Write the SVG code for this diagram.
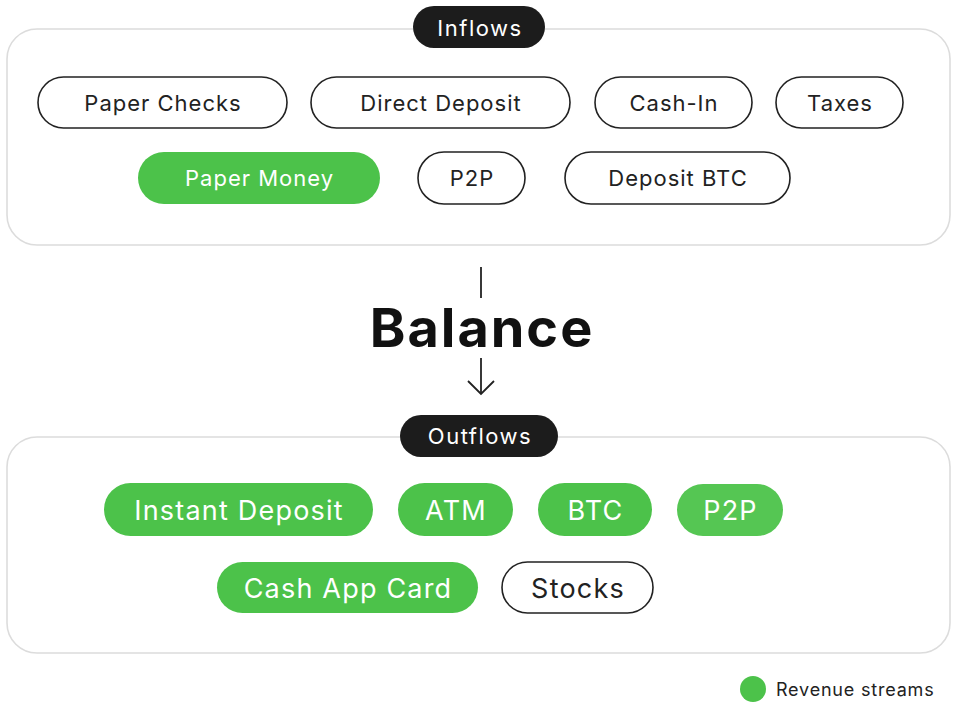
<svg xmlns="http://www.w3.org/2000/svg" width="953" height="705" viewBox="0 0 953 705">
<defs>
<style>
.panel{fill:#fff;stroke:#dcdcdc;stroke-width:1.6}
.pill{fill:#fff;stroke:#222;stroke-width:1.6}
.green{fill:#4cc24a;stroke:none}
.tag{fill:#1c1c1c}
text{font-family:Inter,"Open Sans","Liberation Sans",sans-serif;text-anchor:middle;dominant-baseline:central}
.t{font-size:22px;fill:#222;letter-spacing:1px}
.tw{font-size:22px;fill:#fff;letter-spacing:1px}
.tag-t{font-size:22px;fill:#fff;letter-spacing:1.5px}
.ow{font-size:27px;fill:#fff;letter-spacing:1.2px}
.ob{font-size:27px;fill:#222;letter-spacing:1.2px}
</style>
</defs>
<rect width="953" height="705" fill="#fff"/>
<g id="inflows-panel">
<rect class="panel" x="7" y="29" width="943" height="216" rx="30"/>
<rect class="tag" x="413" y="6" width="132" height="42" rx="21"/>
<text class="tag-t" x="480" y="28">Inflows</text>
</g>
<g id="paper-checks"><rect class="pill" x="38" y="77" width="249" height="51" rx="25.5"/><text class="t" x="163" y="103">Paper Checks</text></g>
<g id="direct-deposit"><rect class="pill" x="311" y="77" width="259" height="51" rx="25.5"/><text class="t" x="441" y="103">Direct Deposit</text></g>
<g id="cash-in"><rect class="pill" x="595" y="77" width="157" height="51" rx="25.5"/><text class="t" x="674" y="103">Cash-In</text></g>
<g id="taxes"><rect class="pill" x="776" y="77" width="127" height="51" rx="25.5"/><text class="t" x="840" y="103">Taxes</text></g>
<g id="paper-money"><rect class="green" x="138" y="152" width="242" height="52" rx="26"/><text class="tw" x="259.5" y="178">Paper Money</text></g>
<g id="p2p-in"><rect class="pill" x="418" y="152" width="107" height="52" rx="26"/><text class="t" x="472" y="178">P2P</text></g>
<g id="deposit-btc"><rect class="pill" x="565" y="152" width="225" height="52" rx="26"/><text class="t" x="678" y="178">Deposit BTC</text></g>
<g id="balance">
<text x="482" y="327" style="font-size:54px;font-weight:700;fill:#111;letter-spacing:2px">Balance</text>
</g>
<g id="connectors" stroke="#222" stroke-width="1.8" fill="none">
<line x1="481" y1="267" x2="481" y2="298"/>
<line x1="481" y1="358" x2="481" y2="394"/>
<polyline points="468,381 481,394 494,381"/>
</g>
<g id="outflows-panel">
<rect class="panel" x="7" y="437" width="943" height="216" rx="30"/>
<rect class="tag" x="400" y="415" width="158" height="42" rx="21"/>
<text class="tag-t" x="480" y="436">Outflows</text>
</g>
<g id="instant-deposit"><rect class="green" x="104" y="483" width="269" height="53" rx="26.5"/><text class="ow" x="239" y="510">Instant Deposit</text></g>
<g id="atm"><rect class="green" x="398" y="483" width="115" height="53" rx="26.5"/><text class="ow" x="456" y="510">ATM</text></g>
<g id="btc"><rect class="green" x="538" y="483" width="114" height="53" rx="26.5"/><text class="ow" x="595.5" y="510">BTC</text></g>
<g id="p2p-out"><rect class="green" x="677" y="484" width="106" height="52" rx="26" style="fill:#55c653"/><text class="ow" x="730.5" y="510">P2P</text></g>
<g id="cash-app-card"><rect class="green" x="217" y="562" width="261" height="51" rx="25.5"/><text class="ow" x="348" y="588">Cash App Card</text></g>
<g id="stocks"><rect class="pill" x="502" y="562" width="151" height="51" rx="25.5"/><text class="ob" x="578" y="588">Stocks</text></g>
<g id="legend">
<circle cx="753" cy="689" r="13" fill="#4cc24a"/>
<text x="776" y="689" style="font-size:18px;fill:#222;text-anchor:start;letter-spacing:0.8px">Revenue streams</text>
</g>
</svg>
